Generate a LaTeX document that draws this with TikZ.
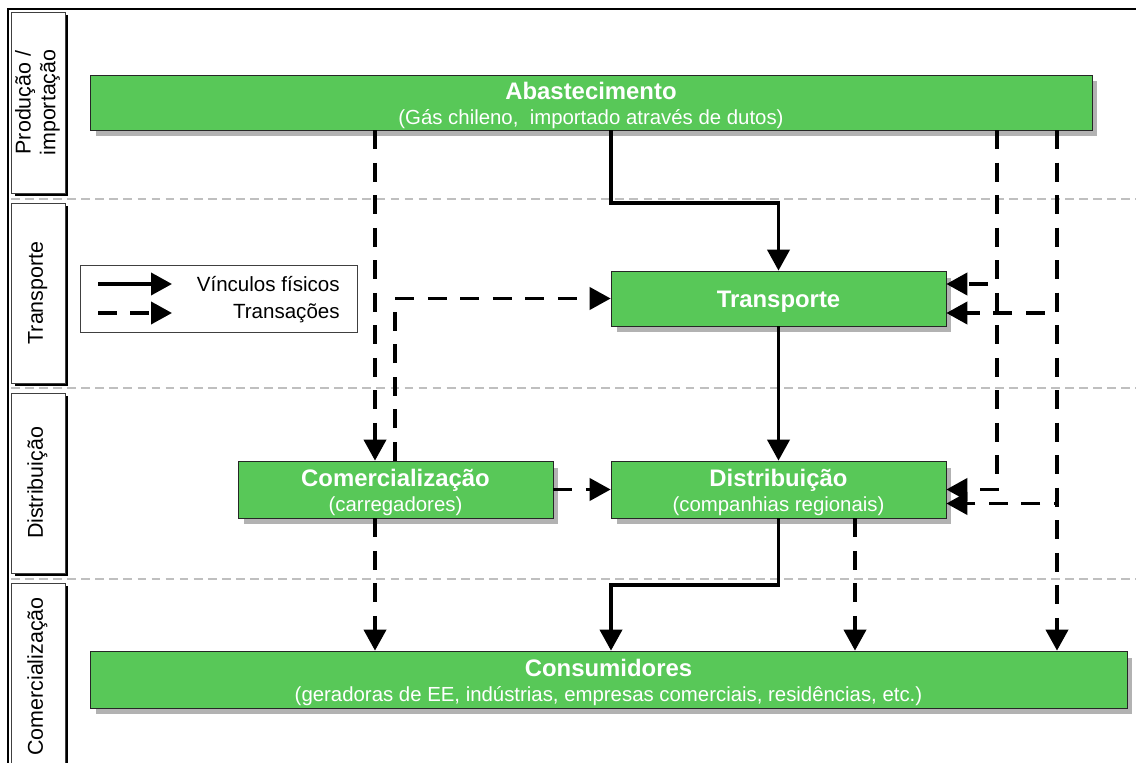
\documentclass[tikz,border=0pt]{standalone}
\usepackage{fontspec}
\setmainfont{Liberation Sans}
\usetikzlibrary{arrows.meta,shadows,calc}
\definecolor{boxgreen}{RGB}{88,200,88}
\newcommand{\ttl}[1]{{\fontsize{13.6}{16}\selectfont\bfseries\rule{0pt}{13.3pt}#1}}
\newcommand{\lanetext}[1]{\rotatebox{90}{\begin{tabular}{@{}c@{}}#1\end{tabular}}}

\begin{document}
\begin{tikzpicture}[x=0.02cm, y=-0.02cm,
  main/.style={draw=black!85, fill=boxgreen, text=white, align=center, inner sep=0pt,
    font=\fontsize{11.6}{14.2}\selectfont,
    drop shadow={shadow xshift=0.11cm, shadow yshift=-0.13cm, fill=black!30, opacity=1}},
  lane/.style={draw=black!75, fill=white, inner sep=0pt, minimum width=1.08cm,
    font=\fontsize{12.2}{14.2}\selectfont,
    drop shadow={shadow xshift=0.07cm, shadow yshift=-0.06cm, fill=black, opacity=1}},
  phys/.style={line width=2.2pt, -{Triangle[length=0.42cm, width=0.44cm]}},
  trx/.style={phys, dash pattern=on 0.38cm off 0.27cm},
  sep/.style={gray!50, line width=0.6pt, dash pattern=on 5pt off 3pt}]
\useasboundingbox (0,0) rectangle (1136,763);

% frame and lanes
\draw[line width=0.7pt] (8,780) -- (8,9) -- (1140,9);
\node[lane, minimum height=3.62cm] (lane1) at (38,102.5) {\lanetext{Produção /\\importação}};
\node[lane, minimum height=3.6cm] (lane2) at (38,293) {\lanetext{Transporte}};
\node[lane, minimum height=3.6cm] (lane3) at (38,483) {\lanetext{Distribuição}};
\node[lane, minimum height=3.74cm] (lane4) at (38,676.5) {\lanetext{Comercialização}};
\draw[sep] (11,199) -- (1136,199);
\draw[sep] (11,388) -- (1136,388);
\draw[sep] (11,579) -- (1136,579);

% boxes
\node[main, minimum width=20.04cm, minimum height=1.1cm] (abast) at (591,102.5)
  {\ttl{Abastecimento}\\(Gás chileno,\ \ importado através de dutos)};
\node[main, minimum width=6.7cm, minimum height=1.1cm] (trans) at (778.5,298.5)
  {\ttl{Transporte}};
\node[main, minimum width=6.3cm, minimum height=1.14cm] (comerc) at (395.5,489.5)
  {\ttl{Comercialização}\\(carregadores)};
\node[main, minimum width=6.7cm, minimum height=1.14cm] (distr) at (778.5,489.5)
  {\ttl{Distribuição}\\(companhias regionais)};
\node[main, minimum width=20.74cm, minimum height=1.14cm] (cons) at (608.5,679.5)
  {\ttl{Consumidores}\\(geradoras de EE, indústrias, empresas comerciais, residências, etc.)};

% legend
\node[draw=black!75, minimum width=5.54cm, minimum height=1.34cm] (legend) at (218.5,298.5) {};
\coordinate (ls1) at (98,284);
\coordinate (le1) at (172,284);
\coordinate (ls2) at (98,313);
\coordinate (le2) at (172,313);
\node[anchor=east, inner sep=0pt, font=\fontsize{11.7}{13}\selectfont] (lt1) at (340,284) {Vínculos físicos};
\node[anchor=east, inner sep=0pt, font=\fontsize{11.7}{13}\selectfont] (lt2) at (340,313) {Transações};
\draw[phys] (ls1) -- (le1);
\draw[trx] (ls2) -- (le2);

% columns
\coordinate (xa) at (375,0);
\coordinate (xb) at (395,0);
\coordinate (xc) at (611,0);
\coordinate (xe) at (855,0);
\coordinate (xf) at (997,0);
\coordinate (xg) at (1057,0);

% physical links
\draw[phys] (abast.south -| xc) -- ++(0,73) -| (trans.north);
\draw[phys] (trans) -- (distr);
\draw[phys] (distr.south) -- ++(0,67) -| (cons.north -| xc);

% transactions
\draw[trx] (abast.south -| xa) -- (comerc.north -| xa);
\draw[trx] (comerc.south -| xa) -- (cons.north -| xa);
\draw[trx] (comerc.north -| xb) |- (trans.west);
\draw[trx] (comerc) -- (distr);
\draw[trx] (abast.south -| xf) |- ($(trans.east)+(0,-14.5)$);
\draw[trx] (abast.south -| xg) |- ($(trans.east)+(0,14.5)$);
\draw[trx] (abast.south -| xf) |- (distr.east);
\draw[trx] (abast.south -| xg) |- ($(distr.east)+(0,14)$);
\draw[trx] (abast.south -| xg) -- (cons.north -| xg);
\draw[trx] (distr.south -| xe) -- (cons.north -| xe);
\end{tikzpicture}
\end{document}
